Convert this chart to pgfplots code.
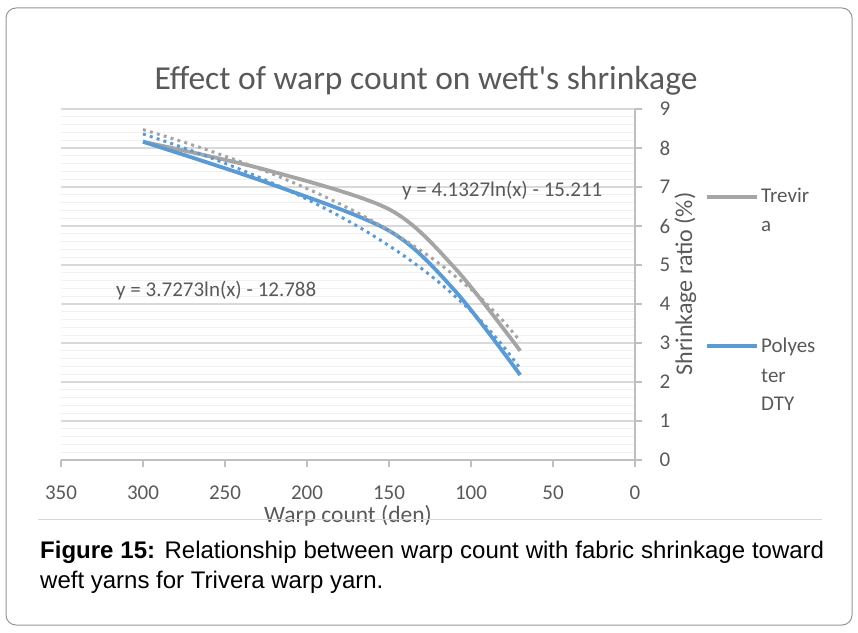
\documentclass[border=0pt]{standalone}
\usepackage{fontspec}
\setmainfont{Liberation Sans}
\newfontfamily\calfont{Carlito}
\usepackage{pgfplots}
\pgfplotsset{compat=1.18}
\definecolor{txt}{RGB}{89,89,89}
\definecolor{majg}{RGB}{217,217,217}
\definecolor{ming}{RGB}{240,240,240}
\definecolor{axg}{RGB}{191,191,191}
\definecolor{trv}{RGB}{165,165,165}
\definecolor{pol}{RGB}{91,155,213}
\definecolor{framec}{RGB}{150,150,150}
\definecolor{sepc}{RGB}{215,215,215}
\begin{document}
\begin{tikzpicture}
\useasboundingbox (0pt,0pt) rectangle (858pt,632pt);
\draw[framec, line width=1pt, rounded corners=10pt] (6pt,7pt) rectangle (852pt,624pt);
\begin{axis}[
  at={(61pt,172pt)}, anchor=south west,
  scale only axis, width=574pt, height=351pt,
  x dir=reverse, xmin=0, xmax=350, ymin=0, ymax=9,
  xtick={0,50,...,350}, ytick={0,1,...,9},
  minor y tick num=4,
  axis x line*=bottom, axis y line*=right,
  axis line style={axg, line width=1.5pt, -},
  major tick style={axg, line width=1.5pt},
  tick align=outside, major tick length=7pt, minor tick length=0pt,
  ymajorgrids, yminorgrids,
  major grid style={majg, line width=1.6pt},
  minor grid style={ming, line width=1.3pt},
  tick label style={font=\calfont\fontsize{21}{24}\selectfont, text=txt},
  /pgf/number format/assume math mode=true,
  xticklabel style={anchor=base, yshift=-32pt},
  yticklabel style={anchor=west, xshift=14pt},
  clip=false,
]
\addplot[trv, line width=3.8pt, smooth] coordinates {
(300,8.16) (225,7.44) (150,6.43) (110,4.93) (70,2.80)};
\addplot[pol, line width=3.8pt, smooth] coordinates {
(300,8.16) (225,7.12) (150,5.88) (110,4.35) (70,2.18)};
\addplot[trv, line width=3pt, dash pattern=on 3pt off 4.2pt, smooth] coordinates {
(300,8.472) (280,8.215) (260,7.939) (240,7.640) (220,7.316) (200,6.960) (180,6.568) (160,6.129) (140,5.631) (120,5.057) (100,4.377) (90,3.984) (80,3.545) (70,3.047)};
\addplot[pol, line width=3pt, dash pattern=on 3pt off 4.2pt, smooth] coordinates {
(300,8.361) (280,8.076) (260,7.770) (240,7.439) (220,7.079) (200,6.685) (180,6.250) (160,5.763) (140,5.211) (120,4.574) (100,3.821) (90,3.385) (80,2.899) (70,2.347)};
\end{axis}
\node[anchor=base, inner sep=0, font=\calfont\fontsize{33.5}{40}\selectfont, text=txt] at (426pt,542pt) {Effect of warp count on weft\symbol{39}s shrinkage};
\node[anchor=base, inner sep=0, font=\calfont\fontsize{23.5}{28}\selectfont, text=txt] at (348pt,110pt) {Warp count (den)};
\node[anchor=base, rotate=90, inner sep=0, font=\calfont\fontsize{24}{28}\selectfont, text=txt] at (692pt,348pt) {Shrinkage ratio (\%)};
\node[anchor=base west, inner sep=0, font=\calfont\fontsize{21}{24}\selectfont, text=txt] at (402pt,435pt) {y = 4.1327ln(x) - 15.211};
\node[anchor=base west, inner sep=0, font=\calfont\fontsize{21}{24}\selectfont, text=txt] at (116pt,335pt) {y = 3.7273ln(x) - 12.788};
\draw[trv, line width=3.8pt] (707pt,435pt) -- (757pt,435pt);
\draw[pol, line width=3.8pt] (707pt,286pt) -- (757pt,286pt);
\begin{scope}[every node/.style={anchor=base west, inner sep=0, font=\calfont\fontsize{21}{24}\selectfont, text=txt}]
\node at (761pt,429pt) {Trevir};
\node at (761pt,400pt) {a};
\node at (761pt,279pt) {Polyes};
\node at (761pt,250pt) {ter};
\node at (761pt,222pt) {DTY};
\end{scope}
\draw[sepc, line width=1pt] (38pt,112.5pt) -- (822pt,112.5pt);
\node[anchor=north west, inner sep=0, text width=784pt, align=justify, font=\fontsize{24}{30}\selectfont] at (40pt,91pt) {\textbf{Figure 15:} Relationship between warp count with fabric shrinkage toward weft yarns for Trivera warp yarn.};
\end{tikzpicture}
\end{document}
